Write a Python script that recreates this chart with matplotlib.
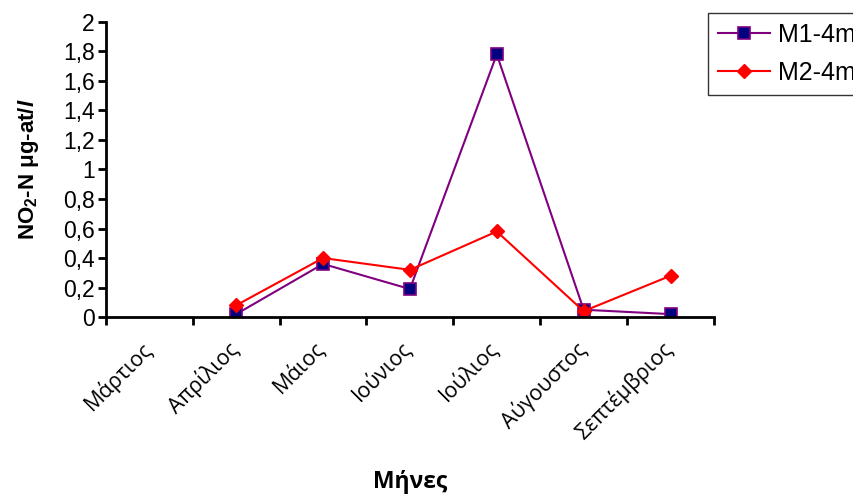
import numpy as np
import matplotlib.pyplot as plt
from matplotlib.transforms import ScaledTranslation

plt.rcParams['font.family'] = ['Liberation Sans', 'DejaVu Sans']
plt.rcParams['mathtext.fontset'] = 'custom'
plt.rcParams['mathtext.rm'] = 'Liberation Sans:bold'
plt.rcParams['mathtext.it'] = 'Liberation Sans:italic:bold'

# months and values
months = ['Μάρτιος', 'Απρίλιος', 'Μάιος', 'Ιούνιος', 'Ιούλιος', 'Αύγουστος', 'Σεπτέμβριος']
m1_4m = [np.nan, 0.02, 0.36, 0.19, 1.78, 0.05, 0.02]
m2_4m = [np.nan, 0.08, 0.40, 0.32, 0.58, 0.04, 0.28]

fig = plt.figure(figsize=(8.54, 4.97), dpi=100)
ax = fig.add_axes([0.124, 0.362, 0.712, 0.594])

x = np.arange(len(months))
ax.plot(x, m1_4m, color='#800080', lw=1.5, marker='s', ms=8,
        mfc='#000080', mec='#800080', mew=1.2, label='M1-4m')
ax.plot(x, m2_4m, color='#ff0000', lw=1.5, marker='D', ms=7.5,
        mfc='#ff0000', mec='#ff0000', label='M2-4m')

ax.set_xlim(-0.5, len(months) - 0.5)
ax.set_ylim(0, 2)
yt = np.arange(0, 2.01, 0.2).round(1)
ax.set_yticks(yt)
ax.set_yticklabels([('%g' % v).replace('.', ',') for v in yt])
ax.set_xticks(np.arange(len(months) + 1) - 0.5)
ax.set_xticklabels([])
ax.set_xticks(x, minor=True)
ax.set_xticklabels(months, minor=True, rotation=45, ha='right', rotation_mode='anchor',
                   family=['Open Sans', 'DejaVu Sans'], fontsize=15.5)
ax.tick_params(axis='x', which='minor', length=0, pad=15)
ax.tick_params(axis='both', which='major', direction='out', length=6, width=2, labelsize=16.5)
ax.tick_params(axis='y', pad=2)

# nudge the month names a little to the left
shift = ScaledTranslation(-9 / 100, 0, fig.dpi_scale_trans)
for lab in ax.get_xticklabels(minor=True):
    lab.set_transform(lab.get_transform() + shift)

for s in ['top', 'right']:
    ax.spines[s].set_visible(False)
for s in ['left', 'bottom']:
    ax.spines[s].set_linewidth(2)

ax.set_ylabel(r'NO$_2$-N μg-at/$l$', fontsize=16, fontweight='bold', labelpad=16)
ax.set_xlabel('Μήνες', fontsize=16.5, fontweight='bold', family=['Open Sans', 'DejaVu Sans'],
              va='center')
ax.xaxis.set_label_coords(0.5, -0.56)

leg = fig.legend(loc='upper left', bbox_to_anchor=(708 / 854, 1 - 13 / 497), fontsize=18,
                 frameon=True, fancybox=False, edgecolor='black', handlelength=2.1,
                 handletextpad=0.3, borderpad=0.4, labelspacing=0.55, borderaxespad=0)
leg.get_frame().set_linewidth(1)

fig.savefig('out.png', dpi=100)
